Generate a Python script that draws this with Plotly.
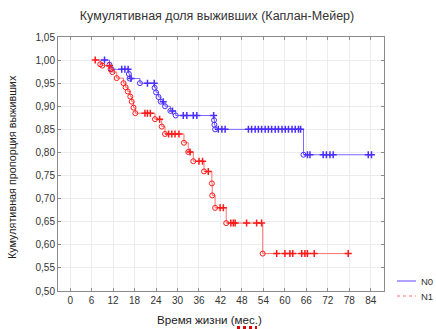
import plotly.graph_objects as go

# ---- data ----
n0_start = 7.0
n0_event_t = [11.0, 11.6, 16.4, 16.6, 19.5, 23.6, 24.0, 24.7, 25.3, 26.5, 28.0, 29.5, 40.2, 40.3, 40.5, 65.2]
n0_event_s = [0.99, 0.98, 0.97, 0.96, 0.95, 0.94, 0.93, 0.92, 0.91, 0.90, 0.89, 0.88, 0.87, 0.86, 0.85, 0.795]
n0_cens_t = [9.6, 14.4, 15.3, 16.2, 17.0, 21.6, 23.5, 26.0, 28.6, 31.6, 32.6, 34.4, 35.4, 40.1,
             41.4, 42.4, 43.3, 49.8, 50.7, 51.7, 52.6, 53.5, 54.5, 55.4, 56.3, 57.3, 58.2, 59.2,
             60.1, 61.0, 62.0, 62.9, 63.8, 64.4, 66.3, 67.0, 70.7, 71.6, 72.6, 73.5, 83.3, 84.2]
n0_end = 84.2

n1_start = 7.0
n1_event_t = [8.4, 9.0, 11.3, 11.8, 13.0, 14.9, 15.5, 16.1, 16.8, 17.2, 17.7, 18.2, 23.7, 25.6,
              26.5, 31.8, 33.0, 34.4, 37.4, 39.6, 39.7, 40.5, 43.6, 53.8]
n1_event_s = [0.991, 0.988, 0.98, 0.974, 0.961, 0.950, 0.941, 0.932, 0.921, 0.910, 0.897, 0.885,
              0.872, 0.856, 0.840, 0.821, 0.801, 0.781, 0.759, 0.733, 0.707, 0.680, 0.647, 0.581]
n1_cens_t = [7.0, 11.0, 20.9, 21.6, 22.4, 25.0, 27.5, 28.4, 29.3, 30.4, 33.5, 36.0, 37.0, 38.6,
             41.9, 42.8, 44.9, 45.6, 46.1, 49.3, 52.1, 53.5, 57.7, 60.0, 61.4, 62.2, 64.7, 65.6,
             66.3, 68.2, 77.7]
n1_end = 77.7

x_ticks = list(range(0, 85, 6))
y_ticks = [0.50, 0.55, 0.60, 0.65, 0.70, 0.75, 0.80, 0.85, 0.90, 0.95, 1.00, 1.05]
y_tick_labels = ["0,50", "0,55", "0,60", "0,65", "0,70", "0,75", "0,80", "0,85", "0,90", "0,95", "1,00", "1,05"]

title = "Кумулятивная доля выживших (Каплан-Мейер)"
x_title = "Время жизни (мес.)"
y_title = "Кумулятивная пропорция выживших"
names = ["N0", "N1"]

BLUE_LINE = "#7a66ff"
BLUE_MARK = "#4a2eff"
RED_LINE = "#ff7070"
RED_MARK = "#ff1a1a"

FONT = "Liberation Sans, Arial, Helvetica, sans-serif"

# plot area in pixels
L, R, T, B = 58, 52, 37, 38
W, H = 436, 329
PW, PH = W - L - R, H - T - B


def px_x(px):
    return (px - L) / PW


def px_y(py):
    return (H - B - py) / PH


def surv_at(t, ev_t, ev_s):
    v = 1.0
    for et, es in zip(ev_t, ev_s):
        if et <= t:
            v = es
    return v


fig = go.Figure()


def add_group(start, ev_t, ev_s, cens_t, end, lcol, mcol):
    xs = [start] + ev_t + [end]
    ys = [1.0] + ev_s + [ev_s[-1]]
    fig.add_trace(go.Scatter(x=xs, y=ys, mode="lines", line=dict(color=lcol, width=1, shape="hv"),
                             showlegend=False, hoverinfo="skip"))
    fig.add_trace(go.Scatter(x=ev_t, y=ev_s, mode="markers",
                             marker=dict(symbol="circle-open", size=5, color=mcol, line=dict(width=1, color=mcol)),
                             showlegend=False))
    cy = [surv_at(t, ev_t, ev_s) for t in cens_t]
    fig.add_trace(go.Scatter(x=cens_t, y=cy, mode="markers",
                             marker=dict(symbol="cross-thin", size=5, color=mcol, line=dict(width=1.5, color=mcol)),
                             showlegend=False))


add_group(n0_start, n0_event_t, n0_event_s, n0_cens_t, n0_end, BLUE_LINE, BLUE_MARK)
add_group(n1_start, n1_event_t, n1_event_s, n1_cens_t, n1_end, RED_LINE, RED_MARK)

axis_common = dict(showline=True, linecolor="#8a8a8a", linewidth=1, mirror="ticks",
                   showgrid=True, gridcolor="#ececec", gridwidth=1, zeroline=False,
                   ticks="inside", ticklen=3, tickcolor="#8a8a8a", automargin=False,
                   tickfont=dict(family=FONT, size=10, color="#333333"))

fig.update_layout(
    width=W, height=H,
    margin=dict(l=L, r=R, t=T, b=B),
    paper_bgcolor="white", plot_bgcolor="white",
    title=dict(text=title, x=217 / W, xanchor="center", y=1 - 15.5 / H, yanchor="middle",
               font=dict(family=FONT, size=12.5, color="#333333")),
    xaxis=dict(range=[-3.4, 87.7], tickvals=x_ticks, ticktext=[str(v) for v in x_ticks], **axis_common),
    yaxis=dict(range=[0.50, 1.05], tickvals=y_ticks, ticktext=y_tick_labels, **axis_common),
    showlegend=False,
)

# axis titles
fig.add_annotation(text=x_title, xref="paper", yref="paper", x=px_x(209), y=px_y(319),
                   xanchor="center", yanchor="middle", showarrow=False,
                   font=dict(family=FONT, size=11.6, color="#222222"))
fig.add_annotation(text=y_title, xref="paper", yref="paper", x=px_x(12), y=px_y(167),
                   xanchor="center", yanchor="middle", showarrow=False, textangle=-90,
                   font=dict(family=FONT, size=10.8, color="#222222"))

# legend (drawn with shapes + text)
leg_rows = [(names[0], BLUE_LINE, "solid", 281), (names[1], RED_LINE, "dot", 296)]
for name, col, dash, ypx in leg_rows:
    fig.add_shape(type="line", xref="paper", yref="paper", x0=px_x(397), x1=px_x(416),
                  y0=px_y(ypx), y1=px_y(ypx), line=dict(color=col, width=1.2, dash=dash))
    fig.add_annotation(text=name, xref="paper", yref="paper", x=px_x(420), y=px_y(ypx),
                       xanchor="left", yanchor="middle", showarrow=False, borderpad=0,
                       font=dict(family=FONT, size=9.5, color="#333333"))

# red dotted (spell-check style) underline under "мес"
fig.add_shape(type="line", xref="paper", yref="paper", x0=px_x(237), x1=px_x(257),
              y0=px_y(327.5), y1=px_y(327.5), line=dict(color="#e00000", width=3, dash="dot"))

fig.write_html("out.html", config={"displayModeBar": False},
               post_script="document.body.style.margin='0';document.body.style.overflow='hidden';")
